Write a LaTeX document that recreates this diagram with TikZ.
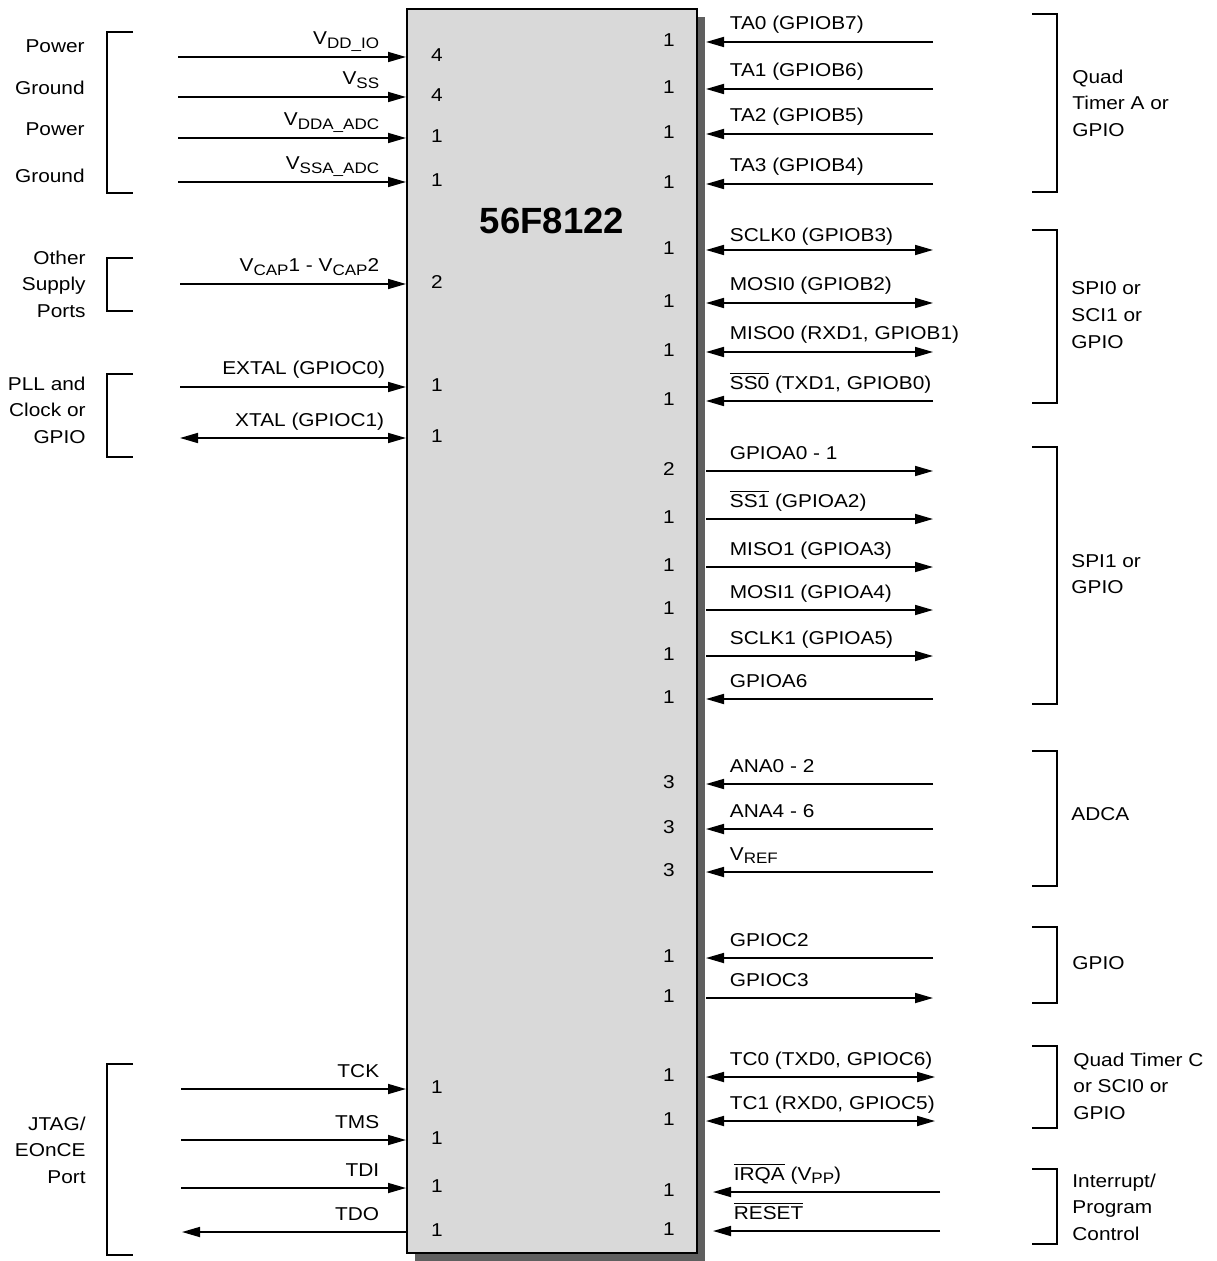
\documentclass[tikz,border=0pt]{standalone}
\usepackage{fontspec}
\setmainfont{Liberation Sans}
\newfontfamily\lbl[FakeStretch=1.12]{Liberation Sans}
\newcommand{\lblfont}{\lbl\fontsize{9.3pt}{13.3pt}\selectfont}
\newcommand{\negsig}[1]{$\overline{\hbox{#1}}$}
\newcommand{\subtxt}[1]{\raisebox{-1.7pt}{\fontsize{7.6pt}{8pt}\selectfont #1}}
\usepackage{tikz}
\usetikzlibrary{arrows.meta,shadows}
\definecolor{chipgray}{HTML}{D9D9D9}
\definecolor{shadowgray}{HTML}{5F5F5F}

\begin{document}
\begin{tikzpicture}[x=0.5pt, y=-0.5pt, >={Triangle[length=9pt,width=5pt]},
  chip/.style={draw, line width=1pt, fill=chipgray, minimum width=145pt, minimum height=622pt, inner sep=0pt,
    drop shadow={shadow xshift=4pt, shadow yshift=-4pt, fill=shadowgray, opacity=1}},
  pin/.style={line width=0.85pt},
  bracket/.style={line width=1pt},
  lname/.style={anchor=base east, inner sep=0pt, xshift=-13pt, yshift=6pt, font=\lblfont},
  rname/.style={anchor=base west, inner sep=0pt, xshift=11.5pt, yshift=6pt, font=\lblfont},
  lnum/.style={inner sep=0pt, xshift=15.5pt, yshift=1pt, font=\lblfont},
  rnum/.style={inner sep=0pt, xshift=-14.5pt, yshift=1pt, font=\lblfont},
  lgroup/.style={anchor=east, align=right, inner sep=0pt, font=\lblfont},
  rgroup/.style={anchor=west, align=left, inner sep=0pt, font=\lblfont}]
  \useasboundingbox (0,0) rectangle (1216,1261);

  % the device
  \node[chip] (ic) at (552,631) {};
  \node[font=\bfseries\fontsize{18.25pt}{20pt}\selectfont] (title) at (552,221) {56F8122};
  \coordinate (rim) at ([xshift=4pt]ic.east);
  \coordinate (rimb) at ([xshift=3.5pt]rim);

  % left side: supplies
  \coordinate (vddio) at (178,57);
  \coordinate (vss) at (178,97);
  \coordinate (vdda) at (178,138);
  \coordinate (vssa) at (178,182);
  \coordinate (vcap) at (180,284);
  \draw[pin,->] (vddio) -- (vddio -| ic.west) node[lname] {V\subtxt{DD\_IO}};
  \draw[pin,->] (vss) -- (vss -| ic.west) node[lname] {V\subtxt{SS}};
  \draw[pin,->] (vdda) -- (vdda -| ic.west) node[lname] {V\subtxt{DDA\_ADC}};
  \draw[pin,->] (vssa) -- (vssa -| ic.west) node[lname] {V\subtxt{SSA\_ADC}};
  \draw[pin,->] (vcap) -- (vcap -| ic.west) node[lname] {V\subtxt{CAP}1 - V\subtxt{CAP}2};
  \node[lnum] at (vddio -| ic.west) {4};
  \node[lnum] at (vss -| ic.west) {4};
  \node[lnum] at (vdda -| ic.west) {1};
  \node[lnum] at (vssa -| ic.west) {1};
  \node[lnum] at (vcap -| ic.west) {2};

  % left side: clock
  \coordinate (extal) at (180,387);
  \coordinate (xtal) at (180,438);
  \draw[pin,->] (extal) -- (extal -| ic.west) node[lname, xshift=3pt] {EXTAL (GPIOC0)};
  \draw[pin,<->] (xtal) -- (xtal -| ic.west) node[lname, xshift=2.5pt] {XTAL (GPIOC1)};
  \node[lnum] at (extal -| ic.west) {1};
  \node[lnum] at (xtal -| ic.west) {1};

  % left side: JTAG
  \coordinate (tck) at (181,1089);
  \coordinate (tms) at (181,1140);
  \coordinate (tdi) at (181,1188);
  \coordinate (tdo) at (182,1232);
  \draw[pin,->] (tck) -- (tck -| ic.west) node[lname] {TCK};
  \draw[pin,->] (tms) -- (tms -| ic.west) node[lname] {TMS};
  \draw[pin,->] (tdi) -- (tdi -| ic.west) node[lname] {TDI};
  \draw[pin,<-] (tdo) -- (tdo -| ic.west) node[lname] {TDO};
  \node[lnum] at (tck -| ic.west) {1};
  \node[lnum] at (tms -| ic.west) {1};
  \node[lnum] at (tdi -| ic.west) {1};
  \node[lnum] at (tdo -| ic.west) {1};

  % left brackets and groups
  \draw[bracket] (133,32) -| (107,193) -- (133,193);
  \draw[bracket] (133,258) -| (107,311) -- (133,311);
  \draw[bracket] (133,374) -| (107,457) -- (133,457);
  \draw[bracket] (133,1064) -| (107,1255) -- (133,1255);
  \node[lgroup] (pwra) at (85,46) {Power};
  \node[lgroup] (gnda) at (85,88) {Ground};
  \node[lgroup] (pwrb) at (85,129) {Power};
  \node[lgroup] (gndb) at (85,176) {Ground};
  \node[lgroup] (other) at (86,284) {Other\\Supply\\Ports};
  \node[lgroup] (pll) at (86,410) {PLL and\\Clock or\\GPIO};
  \node[lgroup] (jtag) at (86,1150) {JTAG/\\EOnCE\\Port};

  % right side: timer A
  \coordinate (ta0) at (933,42);
  \coordinate (ta1) at (933,89);
  \coordinate (ta2) at (933,134);
  \coordinate (ta3) at (933,184);
  \draw[pin,->] (ta0) -- (ta0 -| rim) node[rname] {TA0 (GPIOB7)};
  \draw[pin,->] (ta1) -- (ta1 -| rim) node[rname] {TA1 (GPIOB6)};
  \draw[pin,->] (ta2) -- (ta2 -| rim) node[rname] {TA2 (GPIOB5)};
  \draw[pin,->] (ta3) -- (ta3 -| rim) node[rname] {TA3 (GPIOB4)};
  \node[rnum] at (ta0 -| ic.east) {1};
  \node[rnum] at (ta1 -| ic.east) {1};
  \node[rnum] at (ta2 -| ic.east) {1};
  \node[rnum] at (ta3 -| ic.east) {1};

  % right side: SPI0
  \coordinate (sclk0) at (933,250);
  \coordinate (mosi0) at (933,303);
  \coordinate (miso0) at (933,352);
  \coordinate (ss0) at (933,401);
  \draw[pin,<->] (sclk0) -- (sclk0 -| rim) node[rname, yshift=-2pt] {SCLK0 (GPIOB3)};
  \draw[pin,<->] (mosi0) -- (mosi0 -| rim) node[rname] {MOSI0 (GPIOB2)};
  \draw[pin,<->] (miso0) -- (miso0 -| rim) node[rname] {MISO0 (RXD1, GPIOB1)};
  \draw[pin,->] (ss0) -- (ss0 -| rim) node[rname] {\negsig{SS0} (TXD1, GPIOB0)};
  \node[rnum] at (sclk0 -| ic.east) {1};
  \node[rnum] at (mosi0 -| ic.east) {1};
  \node[rnum] at (miso0 -| ic.east) {1};
  \node[rnum] at (ss0 -| ic.east) {1};

  % right side: SPI1
  \coordinate (gpa01) at (933,471);
  \coordinate (ss1) at (933,519);
  \coordinate (miso1) at (933,567);
  \coordinate (mosi1) at (933,610);
  \coordinate (sclk1) at (933,656);
  \coordinate (gpa6) at (933,699);
  \draw[pin,<-] (gpa01) -- (gpa01 -| rim) node[rname] {GPIOA0 - 1};
  \draw[pin,<-] (ss1) -- (ss1 -| rim) node[rname] {\negsig{SS1} (GPIOA2)};
  \draw[pin,<-] (miso1) -- (miso1 -| rim) node[rname] {MISO1 (GPIOA3)};
  \draw[pin,<-] (mosi1) -- (mosi1 -| rim) node[rname] {MOSI1 (GPIOA4)};
  \draw[pin,<-] (sclk1) -- (sclk1 -| rim) node[rname] {SCLK1 (GPIOA5)};
  \draw[pin,->] (gpa6) -- (gpa6 -| rim) node[rname] {GPIOA6};
  \node[rnum] at (gpa01 -| ic.east) {2};
  \node[rnum] at (ss1 -| ic.east) {1};
  \node[rnum] at (miso1 -| ic.east) {1};
  \node[rnum] at (mosi1 -| ic.east) {1};
  \node[rnum] at (sclk1 -| ic.east) {1};
  \node[rnum] at (gpa6 -| ic.east) {1};

  % right side: ADC
  \coordinate (ana02) at (933,784);
  \coordinate (ana46) at (933,829);
  \coordinate (vref) at (933,872);
  \draw[pin,->] (ana02) -- (ana02 -| rim) node[rname] {ANA0 - 2};
  \draw[pin,->] (ana46) -- (ana46 -| rim) node[rname] {ANA4 - 6};
  \draw[pin,->] (vref) -- (vref -| rim) node[rname] {V\subtxt{REF}};
  \node[rnum] at (ana02 -| ic.east) {3};
  \node[rnum] at (ana46 -| ic.east) {3};
  \node[rnum] at (vref -| ic.east) {3};

  % right side: GPIO C
  \coordinate (gpc2) at (933,958);
  \coordinate (gpc3) at (933,998);
  \draw[pin,->] (gpc2) -- (gpc2 -| rim) node[rname] {GPIOC2};
  \draw[pin,<-] (gpc3) -- (gpc3 -| rim) node[rname] {GPIOC3};
  \node[rnum] at (gpc2 -| ic.east) {1};
  \node[rnum] at (gpc3 -| ic.east) {1};

  % right side: timer C
  \coordinate (tc0) at (935,1077);
  \coordinate (tc1) at (935,1121);
  \draw[pin,<->] (tc0) -- (tc0 -| rim) node[rname] {TC0 (TXD0, GPIOC6)};
  \draw[pin,<->] (tc1) -- (tc1 -| rim) node[rname] {TC1 (RXD0, GPIOC5)};
  \node[rnum] at (tc0 -| ic.east) {1};
  \node[rnum] at (tc1 -| ic.east) {1};

  % right side: interrupt
  \coordinate (irqa) at (940,1192);
  \coordinate (reset) at (940,1231);
  \draw[pin,->] (irqa) -- (irqa -| rimb) node[rname, xshift=-1.5pt] {\negsig{IRQA} (V\subtxt{PP})};
  \draw[pin,->] (reset) -- (reset -| rimb) node[rname, xshift=-1.5pt] {\negsig{RESET}};
  \node[rnum] at (irqa -| ic.east) {1};
  \node[rnum] at (reset -| ic.east) {1};

  % right brackets and groups
  \draw[bracket] (1032,14) -| (1057,192) -- (1032,192);
  \draw[bracket] (1032,230) -| (1057,403) -- (1032,403);
  \draw[bracket] (1032,447) -| (1057,704) -- (1032,704);
  \draw[bracket] (1032,751) -| (1057,886) -- (1032,886);
  \draw[bracket] (1032,927) -| (1057,1003) -- (1032,1003);
  \draw[bracket] (1032,1046) -| (1057,1128) -- (1032,1128);
  \draw[bracket] (1032,1169) -| (1057,1244) -- (1032,1244);
  \node[rgroup] (qta) at (1072,103) {Quad\\Timer A or\\GPIO};
  \node[rgroup] (spi0) at (1071,315) {SPI0 or\\SCI1 or\\GPIO};
  \node[rgroup] (spi1) at (1071,574) {SPI1 or\\GPIO};
  \node[rgroup] (adca) at (1071,814) {ADCA};
  \node[rgroup] (gpio) at (1072,963) {GPIO};
  \node[rgroup] (qtc) at (1073,1086) {Quad Timer C\\or SCI0 or\\GPIO};
  \node[rgroup] (intr) at (1072,1207) {Interrupt/\\Program\\Control};
\end{tikzpicture}
\end{document}
